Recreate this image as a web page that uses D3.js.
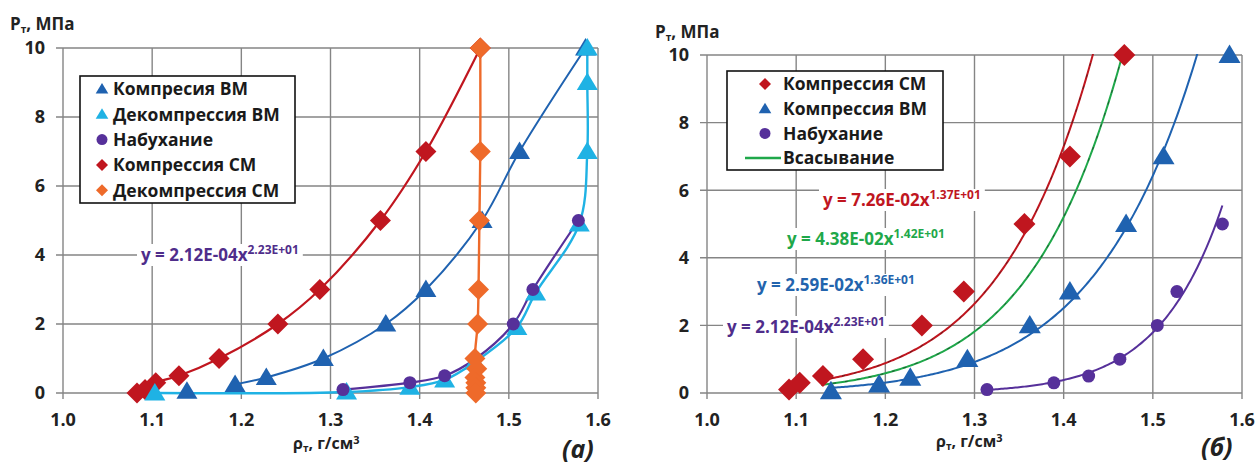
<!DOCTYPE html>
<html>
<head>
<meta charset="utf-8">
<script src="https://cdn.jsdelivr.net/npm/d3@7"></script>
<style>
body { margin: 0; background: #fff; }
text { font-family: "Open Sans", sans-serif; font-weight: bold; }
</style>
</head>
<body>
<svg id="chart" width="1255" height="464"></svg>
<script>
// density ticks / pressure ticks
const X_TICKS = [1.0, 1.1, 1.2, 1.3, 1.4, 1.5, 1.6]
const Y_TICKS = [0, 2, 4, 6, 8, 10]

// Компрессия ВМ
const densCompVM = [1.139, 1.193, 1.228, 1.292, 1.362, 1.407, 1.470, 1.512, 1.586]
const presCompVM = [0.05, 0.25, 0.45, 1.0, 2.0, 3.0, 5.0, 7.0, 10]
// Декомпрессия ВМ
const densDecompVM = [1.588, 1.588, 1.588, 1.579, 1.530, 1.509, 1.462, 1.428, 1.389, 1.318, 1.103]
const presDecompVM = [10, 9, 7, 4.9, 2.9, 1.9, 0.9, 0.38, 0.17, 0.03, 0]
// Набухание
const densSwell = [1.314, 1.389, 1.428, 1.463, 1.505, 1.527, 1.578]
const presSwell = [0.1, 0.3, 0.5, 1.0, 2.0, 3.0, 5.0]
// Компрессия СМ
const densCompCM = [1.083, 1.092, 1.104, 1.130, 1.175, 1.241, 1.288, 1.356, 1.407, 1.468]
const presCompCM = [0, 0.1, 0.3, 0.5, 1.0, 2.0, 3.0, 5.0, 7.0, 10]
// Декомпрессия СМ
const densDecompCM = [1.468, 1.468, 1.467, 1.466, 1.465, 1.462, 1.464, 1.462, 1.463, 1.463, 1.463]
const presDecompCM = [10, 7, 5, 3, 2, 1, 0.7, 0.45, 0.3, 0.15, 0]

// power trendlines y = a*x^b (panel б)
const trendA = [7.26e-2, 4.38e-2, 2.59e-2, 2.12e-4]
const trendB = [13.7, 14.2, 13.6, 22.3]
const trendFrom = [1.125, 1.128, 1.135, 1.314]
const trendTo = [1.44, 1.47, 1.555, 1.578]
const trendCoef = ["7.26E-02", "4.38E-02", "2.59E-02", "2.12E-04"]
const trendExp = ["1.37E+01", "1.42E+01", "1.36E+01", "2.23E+01"]

const C = {
    red: "#c0161f", orange: "#ee6a2a", blue: "#1f62b0", cyan: "#1fb2e4",
    purple: "#56309a", green: "#1fa84a", grid: "#858585"
}

const zip = (xs, ys) => xs.map((x, i) => [x, ys[i]])

function shapePath(type, s){
    if(type == "diamond") return `M0,${-s}L${s},0L0,${s}L${-s},0Z`
    if(type == "triangle") return `M0,${-s*1.0}L${s*1.05},${s*0.75}L${-s*1.05},${s*0.75}Z`
    return d3.symbol(d3.symbolCircle, Math.PI * s * s)()
}

const svg = d3.select("#chart")

function drawPanel(cfg){
    let x = d3.scaleLinear().domain([1.0, 1.6]).range(cfg.xr)
    let y = d3.scaleLinear().domain([0, 10]).range(cfg.yr)
    let g = svg.append("g")

    // grid
    g.selectAll("line.hg").data(Y_TICKS).enter().append("line")
        .attr("x1", x(1.0) - 7).attr("x2", x(1.6))
        .attr("y1", d => y(d)).attr("y2", d => y(d))
        .attr("stroke", C.grid).attr("stroke-width", 1.4)
    g.selectAll("line.vg").data(X_TICKS).enter().append("line")
        .attr("x1", d => x(d)).attr("x2", d => x(d))
        .attr("y1", y(10)).attr("y2", y(0) + 6)
        .attr("stroke", C.grid).attr("stroke-width", 1.4)

    // tick labels
    g.selectAll("text.yt").data(Y_TICKS).enter().append("text")
        .attr("x", x(1.0) - 18).attr("y", d => y(d)).attr("dy", "0.36em")
        .attr("text-anchor", "end").attr("font-size", 18).attr("fill", "#222")
        .text(d => d)
    g.selectAll("text.xt").data(X_TICKS).enter().append("text")
        .attr("x", d => x(d)).attr("y", y(0) + 27).attr("dy", "0.36em")
        .attr("text-anchor", "middle").attr("font-size", 18).attr("fill", "#222")
        .text(d => d.toFixed(1))

    // axis titles
    let yt = g.append("text").attr("x", cfg.ytitle[0]).attr("y", cfg.ytitle[1])
        .attr("font-size", 17).attr("fill", "#222")
    yt.append("tspan").text("P")
    yt.append("tspan").attr("font-size", 10).attr("dy", 3).text("т")
    yt.append("tspan").attr("dy", -3).text(", МПа")
    let xt = g.append("text").attr("x", cfg.xtitle[0]).attr("y", cfg.xtitle[1])
        .attr("font-size", 16).attr("fill", "#222")
    xt.append("tspan").text("ρ")
    xt.append("tspan").attr("font-size", 10).attr("dy", 3).text("т")
    xt.append("tspan").attr("dy", -3).text(", г/см")
    xt.append("tspan").attr("font-size", 11).attr("dy", -5).text("3")

    g.append("text").attr("x", cfg.tag[0]).attr("y", cfg.tag[1])
        .attr("font-size", 25).attr("font-style", "italic").attr("font-weight", "normal")
        .attr("fill", "#222").text(cfg.tagText)

    // clip
    let clipId = "clip" + cfg.xr[0]
    svg.append("clipPath").attr("id", clipId).append("rect")
        .attr("x", x(1.0) - 20).attr("y", y(10) - 1)
        .attr("width", x(1.6) - x(1.0) + 40).attr("height", y(0) - y(10) + 20)

    return {x, y, g, clipId}
}

function drawMarkers(p, pts, type, size, color){
    p.g.selectAll(null).data(pts).enter().append("path")
        .attr("d", shapePath(type, size))
        .attr("transform", d => `translate(${p.x(d[0])},${p.y(d[1])})`)
        .attr("fill", color)
}

function drawSmooth(p, pts, color, w){
    let line = d3.line().x(d => p.x(d[0])).y(d => p.y(d[1])).curve(d3.curveCatmullRom.alpha(0.5))
    p.g.append("path").datum(pts).attr("d", line)
        .attr("fill", "none").attr("stroke", color).attr("stroke-width", w)
}

function drawLegend(g, box, items){
    g.append("rect").attr("x", box.x).attr("y", box.y).attr("width", box.w).attr("height", box.h)
        .attr("fill", "#fff").attr("stroke", "#111").attr("stroke-width", 1.6)
    items.forEach((it, i) => {
        let cy = box.y + box.top + i * box.step
        if(it.type == "line"){
            g.append("line").attr("x1", box.mx - 20).attr("x2", box.mx + 16)
                .attr("y1", cy).attr("y2", cy).attr("stroke", it.color).attr("stroke-width", 2.5)
        } else {
            g.append("path").attr("d", shapePath(it.type, it.type == "circle" ? 5.5 : 6))
                .attr("transform", `translate(${box.mx},${cy})`).attr("fill", it.color)
        }
        g.append("text").attr("x", box.tx).attr("y", cy).attr("dy", "0.36em")
            .attr("font-size", box.fs).attr("fill", "#1a1a1a").text(it.name)
    })
}

function drawEquation(g, pos, i, color){
    let t = g.append("text").attr("x", pos[0]).attr("y", pos[1]).attr("dy", "0.36em")
        .attr("font-size", 17).attr("fill", color)
    t.append("tspan").text(`y = ${trendCoef[i]}x`)
    t.append("tspan").attr("font-size", 12).attr("dy", -7).text(trendExp[i])
    let bb = t.node().getBBox()
    g.insert("rect", () => t.node())
        .attr("x", bb.x - 4).attr("y", pos[1] - 11).attr("width", bb.width + 8).attr("height", 22)
        .attr("fill", "#fff")
}

// ---------- panel (a) ----------
let pa = drawPanel({xr: [63, 598], yr: [393, 48], ytitle: [10, 30], xtitle: [293, 449],
    tag: [562, 458], tagText: "(a)"})

drawEquation(pa.g, [141, 255], 3, "#4f2d8b")

let cm = zip(densCompCM, presCompCM),
    dcm = zip(densDecompCM, presDecompCM),
    vm = zip(densCompVM, presCompVM),
    dvm = zip(densDecompVM, presDecompVM),
    sw = zip(densSwell, presSwell)

drawSmooth(pa, cm, C.red, 2.2)
drawSmooth(pa, vm.slice(1), C.blue, 2)
drawSmooth(pa, dvm, C.cyan, 2.4)
drawSmooth(pa, sw, C.purple, 2.2)
drawSmooth(pa, dcm, C.orange, 2.4)
drawMarkers(pa, cm, "diamond", 10.5, C.red)
drawMarkers(pa, vm, "triangle", 10, C.blue)
drawMarkers(pa, dvm, "triangle", 10, C.cyan)
drawMarkers(pa, sw, "circle", 6.5, C.purple)
drawMarkers(pa, dcm, "diamond", 10.5, C.orange)

drawLegend(pa.g, {x: 80, y: 76, w: 215, h: 127, top: 13, step: 25.3, mx: 102, tx: 113, fs: 17.5}, [
    {name: "Компресия ВМ", type: "triangle", color: C.blue},
    {name: "Декомпрессия ВМ", type: "triangle", color: C.cyan},
    {name: "Набухание", type: "circle", color: C.purple},
    {name: "Компрессия СМ", type: "diamond", color: C.red},
    {name: "Декомпрессия СМ", type: "diamond", color: C.orange}
])

// ---------- panel (б) ----------
let pb = drawPanel({xr: [707, 1242], yr: [393, 55], ytitle: [655, 38], xtitle: [936, 447],
    tag: [1201, 456], tagText: "(б)"})

drawLegend(pb.g, {x: 727, y: 71, w: 216, h: 99, top: 13, step: 24.7, mx: 765, tx: 783, fs: 17.5}, [
    {name: "Компрессия СМ", type: "diamond", color: C.red},
    {name: "Компрессия ВМ", type: "triangle", color: C.blue},
    {name: "Набухание", type: "circle", color: C.purple},
    {name: "Всасывание", type: "line", color: C.green}
])

let eqPos = [[823, 200], [787, 239], [757, 285], [727, 327]]
let eqColor = [C.red, C.green, "#2364ad", "#4f2d8b"]
eqPos.forEach((p, i) => drawEquation(pb.g, p, i, eqColor[i]))

let trendColor = [C.red, C.green, C.blue, C.purple]
let tg = pb.g.append("g").attr("clip-path", `url(#${pb.clipId})`)
trendA.forEach((a, i) => {
    let xs = d3.range(trendFrom[i], trendTo[i] + 0.0001, 0.002)
    let line = d3.line().x(d => pb.x(d)).y(d => pb.y(a * Math.pow(d, trendB[i])))
    tg.append("path").datum(xs).attr("d", line)
        .attr("fill", "none").attr("stroke", trendColor[i]).attr("stroke-width", 2)
    if(i < 2){
        tg.append("path").datum(xs).attr("d", line)
            .attr("fill", "none").attr("stroke", "#222").attr("stroke-width", 1)
            .attr("stroke-dasharray", "3,9").attr("opacity", 0.6)
    }
})

drawMarkers(pb, cm.slice(1), "diamond", 11, C.red)
drawMarkers(pb, vm, "triangle", 10.5, C.blue)
drawMarkers(pb, sw, "circle", 6.5, C.purple)
</script>
</body>
</html>
